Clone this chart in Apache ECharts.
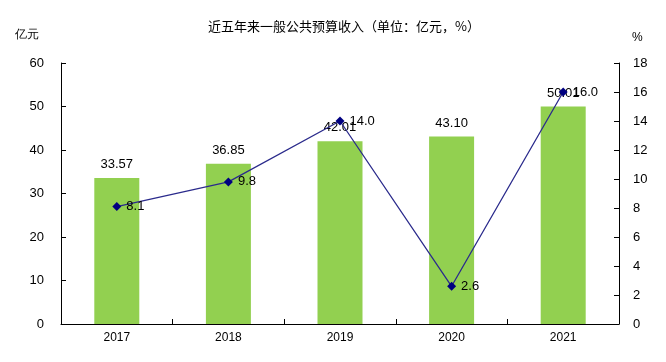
<!DOCTYPE html>
<html>
<head>
<meta charset="utf-8">
<script src="https://cdn.jsdelivr.net/npm/echarts@6/dist/echarts.min.js"></script>
<style>html,body{margin:0;padding:0;background:#fff;}#c{width:666px;height:362px;}</style>
</head>
<body>
<div id="c"></div>
<script>
var categories = ['2017', '2018', '2019', '2020', '2021'];
var revenue = [33.57, 36.85, 42.01, 43.10, 50.01];
var growth = [8.1, 9.8, 14.0, 2.6, 16.0];
var leftTicks = [0, 10, 20, 30, 40, 50, 60];
var rightTicks = [0, 2, 4, 6, 8, 10, 12, 14, 16, 18];

var chart = echarts.init(document.getElementById('c'));
var font = 'Liberation Sans, Arial, sans-serif';
chart.setOption({
  backgroundColor: '#fff',
  animation: false,
  title: {
    text: '近五年来一般公共预算收入（单位：亿元，%）',
    left: 339, top: 15, textAlign: 'center',
    textStyle: {fontSize: 13, fontWeight: 'normal', color: '#000', fontFamily: 'Noto Sans CJK SC, sans-serif'}
  },
  graphic: [
    {type: 'text', left: 15, top: 29, style: {text: '亿元', fontSize: 12, fill: '#000', font: '12px Noto Sans CJK SC, sans-serif'}},
    {type: 'text', left: 632, top: 32, style: {text: '%', fontSize: 12, fill: '#000', font: '12px Liberation Sans, Arial, sans-serif'}}
  ],
  grid: {left: 61, right: 47, top: 63, bottom: 38},
  xAxis: {
    type: 'category', data: categories,
    axisLine: {lineStyle: {color: '#000', width: 1}},
    axisTick: {show: true, inside: true, length: 5, alignWithLabel: false, lineStyle: {color: '#000'}},
    axisLabel: {color: '#000', fontSize: 12, fontFamily: font, margin: 8}
  },
  yAxis: [
    {
      type: 'value', min: leftTicks[0], max: leftTicks[leftTicks.length - 1], interval: 10,
      axisLine: {show: true, lineStyle: {color: '#000'}},
      axisTick: {show: true, inside: true, length: 5, lineStyle: {color: '#000'}},
      splitLine: {show: false},
      axisLabel: {color: '#000', fontSize: 13, fontFamily: font, margin: 17}
    },
    {
      type: 'value', min: rightTicks[0], max: rightTicks[rightTicks.length - 1], interval: 2,
      position: 'right',
      axisLine: {show: true, lineStyle: {color: '#000'}},
      axisTick: {show: true, inside: true, length: 5, lineStyle: {color: '#000'}},
      splitLine: {show: false},
      axisLabel: {color: '#000', fontSize: 13, fontFamily: font, margin: 14}
    }
  ],
  series: [
    {
      type: 'bar', data: revenue, yAxisIndex: 0, barWidth: 45,
      itemStyle: {color: '#92D050'},
      label: {show: true, position: 'top', distance: 7, color: '#000', fontSize: 13, fontFamily: font,
        formatter: function (p) { return p.value.toFixed(2); }}
    },
    {
      type: 'line', data: growth, yAxisIndex: 1,
      symbol: 'diamond', symbolSize: 9,
      lineStyle: {color: '#2B2B8C', width: 1.3},
      itemStyle: {color: '#000080'},
      label: {show: true, position: 'right', distance: 5, color: '#000', fontSize: 13, fontFamily: font,
        formatter: function (p) { return p.value.toFixed(1); }},
      z: 5
    }
  ]
});
</script>
</body>
</html>
